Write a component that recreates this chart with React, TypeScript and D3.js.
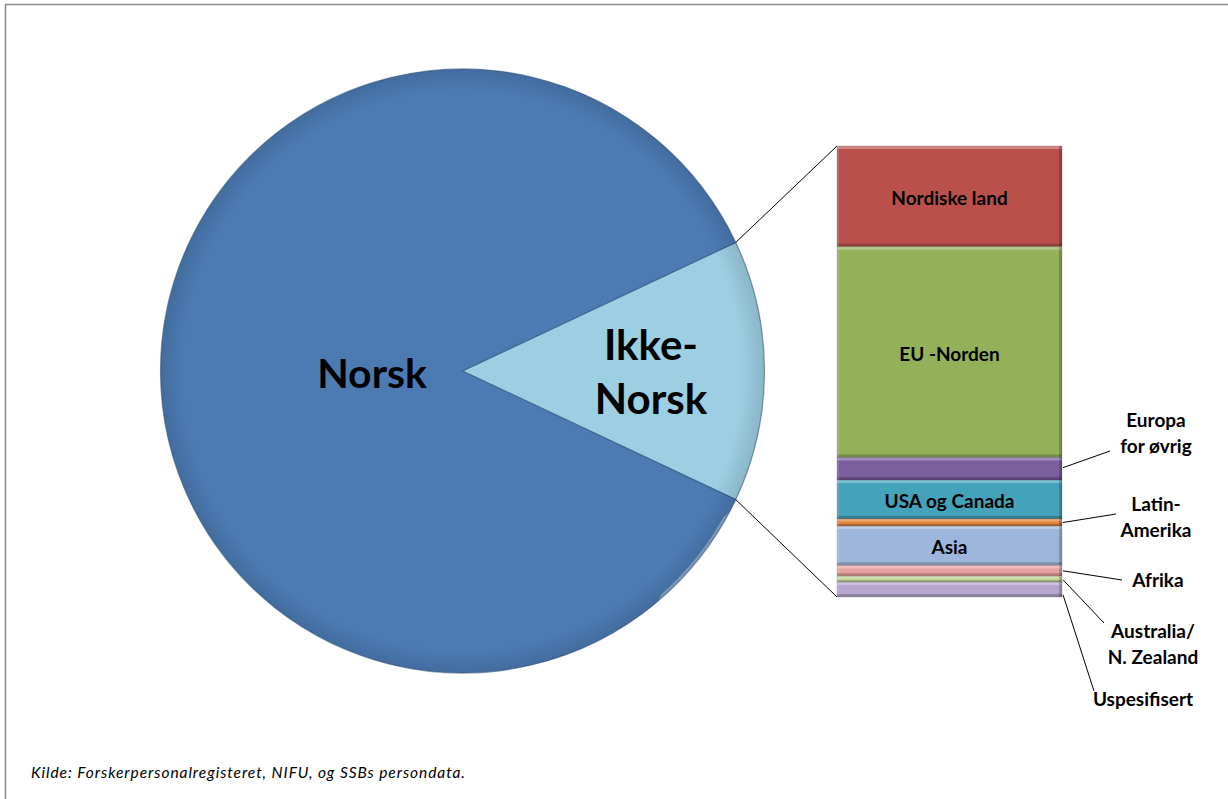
import * as d3 from 'd3'

// pie: share of researchers by citizenship
const pieNames = ['Ikke-Norsk', 'Norsk']
const pieValues = [14, 86]
const pieColors = ['#9dcfe3', '#4c7bb4']

// breakdown of Ikke-Norsk (share of foreign, %)
const regions = [
  'Nordiske land', 'EU -Norden', 'Europa for øvrig', 'USA og Canada', 'Latin-Amerika',
  'Asia', 'Afrika', 'Australia/N. Zealand', 'Uspesifisert',
]
const regionValues = [22.3, 46.7, 5.0, 8.6, 1.6, 8.7, 2.4, 1.3, 3.3]
const regionColors = [
  '#b9504c', '#93b158', '#7b5e9e', '#45a2bb', '#e4883e',
  '#9fb6dc', '#e8a3a1', '#c3d69b', '#b7a6d0',
]
// labels drawn inside the bar
const insideLabels = ['Nordiske land', 'EU -Norden', 'USA og Canada', 'Asia']

// labels outside with leader lines: [region, text lines, text x, first baseline, line end x, line end y, anchor (0..1 in segment)]
const outsideLabels: [string, string[], number, number, number, number, number][] = [
  ['Europa for øvrig', ['Europa', 'for øvrig'], 1156, 427, 1110, 451, 0.45],
  ['Latin-Amerika', ['Latin-', 'Amerika'], 1156, 511, 1116, 514, 0.5],
  ['Afrika', ['Afrika'], 1158, 587, 1122, 580, 0.5],
  ['Australia/N. Zealand', ['Australia/', 'N. Zealand'], 1153, 638, 1104, 623, 0.6],
  ['Uspesifisert', ['Uspesifisert'], 1143, 706, 1094, 691, 0.85],
]

const W = 1228
const H = 799
const cx = 462.5
const cy = 371
const R = 302
const barX0 = 837
const barX1 = 1062
const barTop = 146
const barBottom = 597
const font = 'Lato, "Open Sans", sans-serif'

export default function App() {
  const share = pieValues[0] / d3.sum(pieValues)
  const start = Math.PI / 2 - Math.PI * share
  const pie = d3.pie<number>().sort(null).startAngle(start).endAngle(start + 2 * Math.PI)
  const arcs = pie(pieValues)
  const arc = d3.arc<d3.PieArcDatum<number>>().innerRadius(0).outerRadius(R)

  const total = d3.sum(regionValues)
  const y = d3.scaleLinear().domain([0, total]).range([barTop, barBottom])
  const cum = d3.cumsum(regionValues)
  const segs = regions.map((r, i) => ({
    name: r,
    color: regionColors[i],
    y0: y(cum[i] - regionValues[i]),
    y1: y(cum[i]),
  }))

  // points on the pie rim where the foreign slice begins/ends
  const a0 = arcs[0].startAngle
  const a1 = arcs[0].endAngle
  const rim0: [number, number] = [cx + R * Math.sin(a0), cy - R * Math.cos(a0)]
  const rim1: [number, number] = [cx + R * Math.sin(a1), cy - R * Math.cos(a1)]

  return (
    <svg width={W} height={H} style={{ position: 'absolute', left: 0, top: 0, background: '#fff' }}>
      <defs>
        {arcs.map((d, i) => (
          <clipPath id={`pc${i}`} key={i}>
            <path d={arc(d) || ''} transform={`translate(${cx},${cy})`} />
          </clipPath>
        ))}
        <radialGradient id="pieShade" cx="0.5" cy="0.5" r="0.5">
          <stop offset="0.92" stopColor="#000" stopOpacity="0" />
          <stop offset="1" stopColor="#000" stopOpacity="0.12" />
        </radialGradient>
        {segs.map((s, i) => (
          <clipPath id={`bc${i}`} key={i}>
            <rect x={barX0} y={s.y0} width={barX1 - barX0} height={s.y1 - s.y0} />
          </clipPath>
        ))}
      </defs>

      <rect x={5.5} y={4.5} width={W + 10} height={H + 10} fill="none" stroke="#8a8a8a" strokeWidth={1.5} />

      {/* pie */}
      <g>
        {arcs.map((d, i) => (
          <g key={i}>
            <path d={arc(d) || ''} transform={`translate(${cx},${cy})`} fill={pieColors[i]} />
            <path
              d={arc(d) || ''}
              transform={`translate(${cx},${cy})`}
              fill="none"
              stroke="#ffffff"
              strokeOpacity={0.35}
              strokeWidth={6}
              clipPath={`url(#pc${i})`}
            />
            <path
              d={arc(d) || ''}
              transform={`translate(${cx},${cy})`}
              fill="none"
              stroke="#2c4f7c"
              strokeOpacity={0.55}
              strokeWidth={1.2}
            />
          </g>
        ))}
        <circle cx={cx} cy={cy} r={R} fill="url(#pieShade)" />
      </g>

      {/* connector lines */}
      <line x1={rim0[0]} y1={rim0[1]} x2={barX0} y2={barTop} stroke="#000" strokeWidth={1} />
      <line x1={rim1[0]} y1={rim1[1]} x2={barX0} y2={barBottom} stroke="#000" strokeWidth={1} />

      <text x={372} y={388} textAnchor="middle" fontFamily={font} fontWeight={700} fontSize={41} fill="#000">
        {pieNames[1]}
      </text>
      <text textAnchor="middle" fontFamily={font} fontWeight={700} fontSize={42} fill="#000">
        <tspan x={651} y={360}>Ikke-</tspan>
        <tspan x={651} y={414}>Norsk</tspan>
      </text>

      {/* stacked bar */}
      {segs.map((s, i) => {
        const h = s.y1 - s.y0
        const e = Math.min(3, h / 3)
        return (
          <g key={s.name}>
            <rect x={barX0} y={s.y0} width={barX1 - barX0} height={h} fill={s.color} />
            <g clipPath={`url(#bc${i})`}>
              <rect x={barX0} y={s.y0} width={barX1 - barX0} height={e} fill="#fff" opacity={0.3} />
              <rect x={barX0} y={s.y1 - e} width={barX1 - barX0} height={e} fill="#000" opacity={0.22} />
              <rect x={barX1 - 3} y={s.y0} width={3} height={h} fill="#000" opacity={0.2} />
              <rect x={barX0} y={s.y0} width={2} height={h} fill="#fff" opacity={0.15} />
            </g>
            <rect x={barX0} y={s.y0} width={barX1 - barX0} height={h} fill="none" stroke="#000" strokeOpacity={0.18} strokeWidth={0.8} />
          </g>
        )
      })}

      {segs
        .filter((s) => insideLabels.includes(s.name))
        .map((s) => (
          <text
            key={s.name}
            x={(barX0 + barX1) / 2}
            y={(s.y0 + s.y1) / 2 + 2}
            dy="0.35em"
            textAnchor="middle"
            fontFamily={font}
            fontWeight={700}
            fontSize={19}
            fill="#000"
          >
            {s.name}
          </text>
        ))}

      {outsideLabels.map(([name, lines, tx, ty, lx, ly, f]) => {
        const s = segs.find((d) => d.name === name)!
        const sy = s.y0 + (s.y1 - s.y0) * f
        return (
          <g key={name}>
            <line x1={barX1 + 1} y1={sy} x2={lx} y2={ly} stroke="#000" strokeWidth={1} />
            <text textAnchor="middle" fontFamily={font} fontWeight={700} fontSize={19} fill="#000">
              {lines.map((l, j) => (
                <tspan key={j} x={tx} y={ty + j * 26}>
                  {l}
                </tspan>
              ))}
            </text>
          </g>
        )
      })}

      <text
        x={31}
        y={778}
        fontFamily={font}
        fontStyle="italic"
        fontSize={15.5}
        fill="#000"
        textLength={434}
        lengthAdjust="spacing"
      >
        Kilde: Forskerpersonalregisteret, NIFU, og SSBs persondata.
      </text>
    </svg>
  )
}
